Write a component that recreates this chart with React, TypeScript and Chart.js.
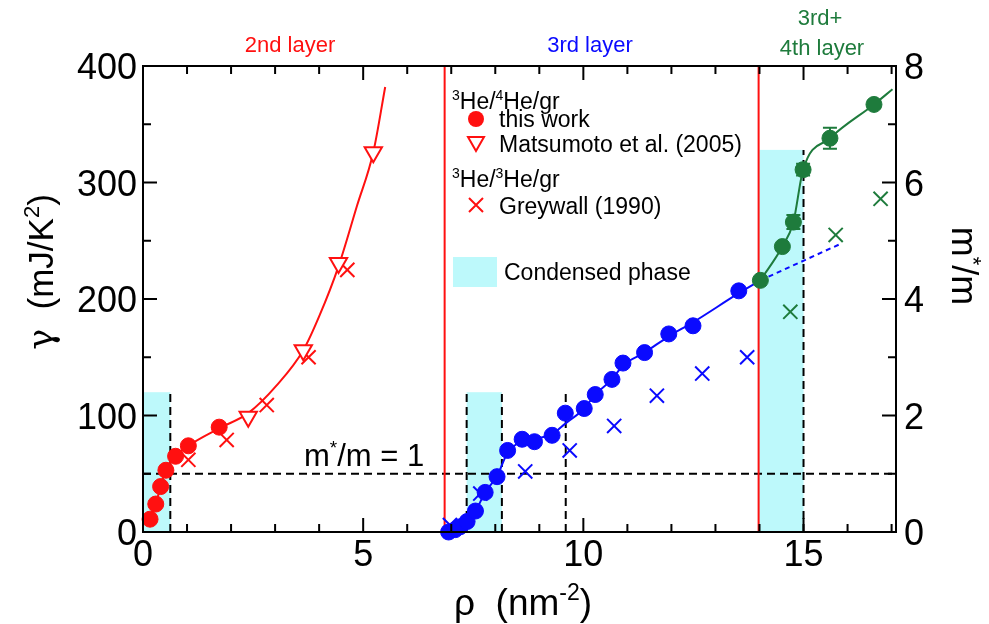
import React, { useEffect, useRef } from "react";
import { Chart, registerables } from "chart.js";

Chart.register(...registerables);

// ---------- data ----------
const secondLayerX = [0.16, 0.29, 0.4, 0.52, 0.74, 1.03, 1.73];
const secondLayerGamma = [11, 24, 39, 53, 65, 74, 90];

const matsumotoX = [2.39, 3.64, 4.44, 5.23];
const matsumotoGamma = [99, 156, 231, 326];

const greywall2X = [1.03, 1.9, 2.81, 3.76, 4.64];
const greywall2Gamma = [62, 79, 109, 150, 225];

const secondFitX = [0.16, 0.29, 0.4, 0.52, 0.74, 1.03, 1.73, 2.39, 3.04, 3.64, 4.0, 4.44, 4.86, 5.23, 5.5];
const secondFitGamma = [11, 24, 39, 53, 65, 74, 89, 102, 126, 156, 185, 228, 280, 326, 382];

const thirdLayerX = [6.94, 7.09, 7.2, 7.36, 7.55, 7.77, 8.04, 8.28, 8.61, 8.89, 9.29, 9.59, 10.02, 10.27, 10.65, 10.9, 11.39, 11.94, 12.49, 13.53];
const thirdLayerGamma = [0, 2, 4.5, 9, 18, 34, 47.5, 70, 79.6, 77.5, 83, 102, 106, 118, 131, 145, 154, 170, 177, 207];

const thirdFitX = [6.94, 7.2, 7.55, 7.77, 8.04, 8.28, 8.61, 8.89, 9.29, 9.59, 10.02, 10.27, 10.65, 10.9, 11.39, 11.94, 12.49, 13.53, 14.02];
const thirdFitGamma = [0, 4, 18, 34, 48, 68, 78, 80, 84, 93, 106, 118, 131, 143, 154, 168, 180, 205, 216];

const greywall3X = [6.97, 7.66, 8.68, 9.69, 10.7, 11.67, 12.7, 13.72];
const greywall3Gamma = [6, 33, 52, 70, 91, 117, 136, 150];

const extrapX = [14.02, 15.88];
const extrapGamma = [216, 248];

const fourthLayerX = [14.02, 14.52, 14.77, 14.99, 15.6, 16.6];
const fourthLayerGamma = [216, 245, 266, 311, 338, 367];
const fourthLayerErr = [0, 0, 6, 5, 9, 3];

const fourthFitX = [14.02, 14.52, 14.77, 14.99, 15.6, 16.6, 17.02];
const fourthFitGamma = [216, 245, 266, 311, 338, 367, 380];

const greywall4X = [14.7, 15.73, 16.75];
const greywall4Gamma = [189, 255, 286];

const layerBoundaries = [6.85, 13.98];
const condensedStart = [0, 7.35, 13.98];
const condensedEnd = [0.62, 8.15, 15.0];
const condensedTop = [120, 120, 328];

const dashedX = [0.62, 7.35, 8.15, 9.6, 15.0];
const dashedTop = [120, 120, 120, 120, 328];
const unitMassRatio = 1;

const xTicks = [0, 5, 10, 15];
const yTicks = [0, 100, 200, 300, 400];
const y2Ticks = [0, 2, 4, 6, 8];

// ---------- styles ----------
const RED = "#ff1010";
const BLUE = "#0a0aff";
const GREEN = "#1e7b3c";
const CYAN = "#bdf9fb";
const SANS = '"Liberation Sans", Arial, sans-serif';

const pts = (xs: number[], ys: number[]) => xs.map((x, i) => ({ x, y: ys[i] }));

type Seg = { t: string; sup?: boolean; font?: string };

function drawRich(
  ctx: CanvasRenderingContext2D,
  segs: Seg[],
  x: number,
  y: number,
  size: number,
  color: string,
  align: "left" | "center" | "right"
) {
  const fontOf = (s: Seg) => `${s.sup ? Math.round(size * 0.62) : size}px ${s.font || SANS}`;
  const widths = segs.map((s) => {
    ctx.font = fontOf(s);
    return ctx.measureText(s.t).width;
  });
  const total = widths.reduce((a, b) => a + b, 0);
  let cx = align === "left" ? x : align === "center" ? x - total / 2 : x - total;
  ctx.fillStyle = color;
  ctx.textAlign = "left";
  ctx.textBaseline = "alphabetic";
  segs.forEach((s, i) => {
    ctx.font = fontOf(s);
    ctx.fillText(s.t, cx, s.sup ? y - size * 0.4 : y);
    cx += widths[i];
  });
}

const decor = {
  id: "decor",
  beforeDatasetsDraw(chart: any) {
    const { ctx, chartArea: a, scales } = chart;
    const xs = scales.x;
    const ys = scales.y;
    const y2 = scales.y2;
    ctx.save();
    // condensed phase boxes
    ctx.fillStyle = CYAN;
    condensedStart.forEach((s, i) => {
      const x0 = xs.getPixelForValue(s);
      const x1 = xs.getPixelForValue(condensedEnd[i]);
      const yt = ys.getPixelForValue(condensedTop[i]);
      ctx.fillRect(x0, yt, x1 - x0, a.bottom - yt);
    });
    // dashed lines
    ctx.strokeStyle = "#000";
    ctx.lineWidth = 2;
    ctx.setLineDash([8, 5]);
    dashedX.forEach((dx, i) => {
      const px = xs.getPixelForValue(dx);
      ctx.beginPath();
      ctx.moveTo(px, a.bottom);
      ctx.lineTo(px, ys.getPixelForValue(dashedTop[i]));
      ctx.stroke();
    });
    const hy = y2.getPixelForValue(unitMassRatio);
    ctx.beginPath();
    ctx.moveTo(a.left, hy);
    ctx.lineTo(a.right, hy);
    ctx.stroke();
    ctx.setLineDash([]);
    // error bars
    ctx.strokeStyle = GREEN;
    ctx.lineWidth = 2;
    fourthLayerX.forEach((fx, i) => {
      const e = fourthLayerErr[i];
      if (!e) return;
      const px = xs.getPixelForValue(fx);
      const p0 = ys.getPixelForValue(fourthLayerGamma[i] - e);
      const p1 = ys.getPixelForValue(fourthLayerGamma[i] + e);
      ctx.beginPath();
      ctx.moveTo(px, p0);
      ctx.lineTo(px, p1);
      ctx.moveTo(px - 7, p0);
      ctx.lineTo(px + 7, p0);
      ctx.moveTo(px - 7, p1);
      ctx.lineTo(px + 7, p1);
      ctx.stroke();
    });
    ctx.restore();
  },
  afterDatasetsDraw(chart: any) {
    const { ctx, chartArea: a, scales } = chart;
    const xs = scales.x;
    const ys = scales.y;
    const y2 = scales.y2;
    ctx.save();
    // frame
    ctx.strokeStyle = "#000";
    ctx.lineWidth = 2;
    ctx.strokeRect(a.left, a.top, a.right - a.left, a.bottom - a.top);
    // inward ticks
    ctx.beginPath();
    for (let v = 0; v <= 17; v++) {
      const px = xs.getPixelForValue(v);
      const len = v % 5 === 0 ? 14 : 8;
      ctx.moveTo(px, a.bottom);
      ctx.lineTo(px, a.bottom - len);
      ctx.moveTo(px, a.top);
      ctx.lineTo(px, a.top + len);
    }
    for (let v = 0; v <= 400; v += 50) {
      const py = ys.getPixelForValue(v);
      const len = v % 100 === 0 ? 14 : 8;
      ctx.moveTo(a.left, py);
      ctx.lineTo(a.left + len, py);
    }
    for (let v = 0; v <= 8; v += 1) {
      const py = y2.getPixelForValue(v);
      const len = v % 2 === 0 ? 14 : 8;
      ctx.moveTo(a.right, py);
      ctx.lineTo(a.right - len, py);
    }
    ctx.stroke();
    ctx.restore();
  },
  afterDraw(chart: any) {
    const { ctx, chartArea: a, scales } = chart;
    const xs = scales.x;
    const ys = scales.y;
    const y2 = scales.y2;
    ctx.save();
    const TS = 36;
    // tick labels
    xTicks.forEach((v) => drawRich(ctx, [{ t: String(v) }], xs.getPixelForValue(v), a.bottom + 34, TS, "#000", "center"));
    yTicks.forEach((v) => drawRich(ctx, [{ t: String(v) }], a.left - 6, ys.getPixelForValue(v) + 13, TS, "#000", "right"));
    y2Ticks.forEach((v) => drawRich(ctx, [{ t: String(v) }], a.right + 8, y2.getPixelForValue(v) + 13, TS, "#000", "left"));
    // axis titles
    drawRich(ctx, [{ t: "ρ  (nm" }, { t: "-2", sup: true }, { t: ")" }], 523, 615, 37, "#000", "center");
    ctx.save();
    ctx.translate(41, 272);
    ctx.rotate(-Math.PI / 2);
    drawRich(ctx, [{ t: "γ", font: '"DejaVu Serif", serif' }, { t: "  (mJ/K" }, { t: "2", sup: true }, { t: ")" }], 0, 12, 35, "#000", "center");
    ctx.restore();
    ctx.save();
    ctx.translate(962, 266);
    ctx.rotate(Math.PI / 2);
    drawRich(ctx, [{ t: "m" }, { t: "*", sup: true }, { t: "/m" }], 0, 10, 36, "#000", "center");
    ctx.restore();
    // layer labels
    drawRich(ctx, [{ t: "2nd layer" }], 290, 52, 22, RED, "center");
    drawRich(ctx, [{ t: "3rd layer" }], 590, 52, 22, BLUE, "center");
    drawRich(ctx, [{ t: "3rd+" }], 820, 25, 22, GREEN, "center");
    drawRich(ctx, [{ t: "4th layer" }], 822, 55, 22, GREEN, "center");
    // m*/m = 1 label
    drawRich(ctx, [{ t: "m" }, { t: "*", sup: true }, { t: "/m = 1" }], 304, 466, 31, "#000", "left");
    // legend
    const LS = 23;
    drawRich(ctx, [{ t: "3", sup: true }, { t: "He/" }, { t: "4", sup: true }, { t: "He/gr" }], 452, 109, LS, "#000", "left");
    ctx.fillStyle = RED;
    ctx.beginPath();
    ctx.arc(476, 119, 8, 0, Math.PI * 2);
    ctx.fill();
    drawRich(ctx, [{ t: "this work" }], 499, 127, LS, "#000", "left");
    ctx.strokeStyle = RED;
    ctx.lineWidth = 2;
    ctx.beginPath();
    ctx.moveTo(468, 137);
    ctx.lineTo(484, 137);
    ctx.lineTo(476, 151);
    ctx.closePath();
    ctx.stroke();
    drawRich(ctx, [{ t: "Matsumoto et al. (2005)" }], 499, 152, LS, "#000", "left");
    drawRich(ctx, [{ t: "3", sup: true }, { t: "He/" }, { t: "3", sup: true }, { t: "He/gr" }], 452, 187, LS, "#000", "left");
    ctx.beginPath();
    ctx.moveTo(469, 198);
    ctx.lineTo(483, 212);
    ctx.moveTo(483, 198);
    ctx.lineTo(469, 212);
    ctx.stroke();
    drawRich(ctx, [{ t: "Greywall (1990)" }], 499, 214, LS, "#000", "left");
    ctx.fillStyle = CYAN;
    ctx.fillRect(453, 257, 44, 30);
    drawRich(ctx, [{ t: "Condensed phase" }], 504, 280, LS, "#000", "left");
    ctx.restore();
  },
};

export default function App() {
  const ref = useRef<HTMLCanvasElement>(null);
  useEffect(() => {
    const canvas = ref.current;
    if (!canvas) return;
    const marker = (xs: number[], ys: number[], color: string) => ({
      data: pts(xs, ys),
      showLine: false,
      pointRadius: 8,
      pointHoverRadius: 8,
      pointBackgroundColor: color,
      pointBorderColor: color,
      pointBorderWidth: 1,
      clip: false as any,
      order: 1,
    });
    const cross = (xs: number[], ys: number[], color: string) => ({
      data: pts(xs, ys),
      showLine: false,
      pointStyle: "crossRot",
      pointRadius: 10,
      pointBorderColor: color,
      pointBorderWidth: 2,
      clip: false as any,
      order: 2,
    });
    const line = (xs: number[], ys: number[], color: string, dash: number[] = []) => ({
      data: pts(xs, ys),
      showLine: true,
      pointRadius: 0,
      borderColor: color,
      borderWidth: 2,
      borderDash: dash,
      cubicInterpolationMode: "monotone" as const,
      clip: false as any,
      order: 5,
    });
    const datasets: any[] = [
      ...layerBoundaries.map((b) => ({
        data: [
          { x: b, y: 0 },
          { x: b, y: 400 },
        ],
        showLine: true,
        pointRadius: 0,
        borderColor: RED,
        borderWidth: 2,
        order: 6,
      })),
      line(secondFitX, secondFitGamma, RED),
      line(thirdFitX, thirdFitGamma, BLUE),
      line(extrapX, extrapGamma, BLUE, [5, 4]),
      line(fourthFitX, fourthFitGamma, GREEN),
      cross(greywall2X, greywall2Gamma, RED),
      cross(greywall3X, greywall3Gamma, BLUE),
      cross(greywall4X, greywall4Gamma, GREEN),
      {
        data: pts(matsumotoX, matsumotoGamma),
        showLine: false,
        pointStyle: "triangle",
        rotation: 180,
        pointRotation: 180,
        pointRadius: 10,
        pointBackgroundColor: "#fff",
        pointBorderColor: RED,
        pointBorderWidth: 2,
        clip: false,
        order: 1,
      },
      marker(secondLayerX, secondLayerGamma, RED),
      marker(thirdLayerX, thirdLayerGamma, BLUE),
      marker(fourthLayerX, fourthLayerGamma, GREEN),
    ];
    const chart = new Chart(canvas, {
      type: "scatter",
      data: { datasets },
      options: {
        animation: false,
        responsive: false,
        devicePixelRatio: 1,
        layout: { padding: { top: 66, left: 0, right: 0, bottom: 0 } },
        plugins: { legend: { display: false }, tooltip: { enabled: false } },
        events: [],
        scales: {
          x: {
            type: "linear",
            position: "bottom",
            min: 0,
            max: 17.1,
            grid: { display: false, drawTicks: false },
            border: { display: false },
            ticks: { display: false },
            afterFit: (s: any) => {
              s.height = 92;
            },
          },
          y: {
            type: "linear",
            position: "left",
            min: 0,
            max: 400,
            grid: { display: false, drawTicks: false },
            border: { display: false },
            ticks: { display: false },
            afterFit: (s: any) => {
              s.width = 143;
            },
          },
          y2: {
            type: "linear",
            position: "right",
            min: 0,
            max: 8,
            grid: { display: false, drawTicks: false },
            border: { display: false },
            ticks: { display: false },
            afterFit: (s: any) => {
              s.width = 93;
            },
          },
        },
      } as any,
      plugins: [decor],
    });
    return () => chart.destroy();
  }, []);
  return (
    <div style={{ position: "fixed", left: 0, top: 0, width: 989, height: 624, background: "#fff" }}>
      <canvas ref={ref} width={989} height={624} style={{ width: 989, height: 624, display: "block" }} />
    </div>
  );
}
